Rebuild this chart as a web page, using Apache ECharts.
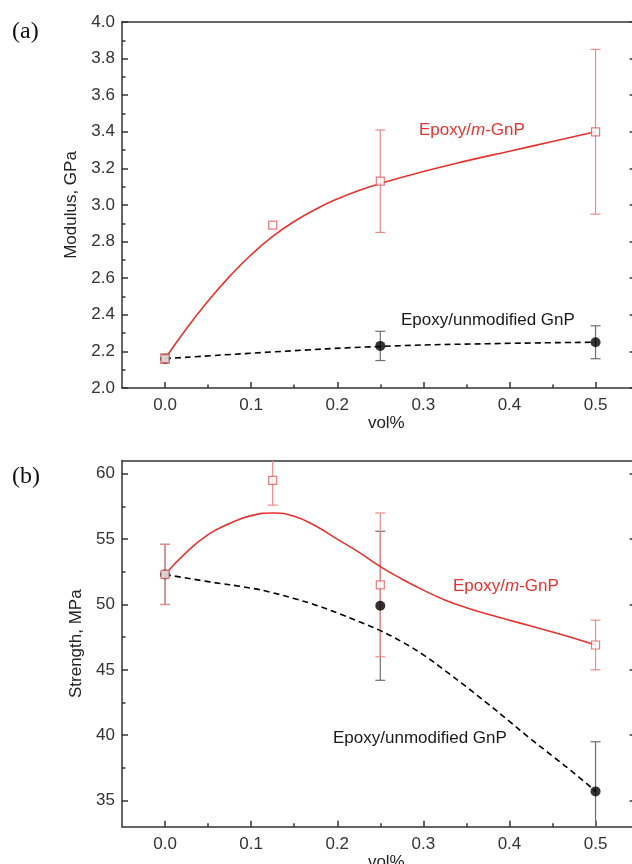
<!DOCTYPE html>
<html>
<head>
<meta charset="utf-8">
<script src="https://cdn.jsdelivr.net/npm/echarts@6/dist/echarts.min.js"></script>
<style>
  html, body { margin: 0; padding: 0; background: #fff; }
  #chart { width: 632px; height: 864px; }
</style>
</head>
<body>
<div id="chart"></div>
<script>
// Filler loading, vol%
const volMGnP = [0, 0.125, 0.25, 0.5];
const volUnmod = [0, 0.25, 0.5];

// Axis ticks
const volTicks = [0, 0.1, 0.2, 0.3, 0.4, 0.5];
const volMinorTicks = [0.05, 0.15, 0.25, 0.35, 0.45];
const strengthTicks = [35, 40, 45, 50, 55, 60];
const strengthMinorTicks = [37.5, 42.5, 47.5, 52.5, 57.5];

// (a) Young's modulus, GPa (mean and standard deviation)
const modulusMGnP = [2.16, 2.89, 3.13, 3.40];
const modulusMGnPErr = [0.025, 0, 0.28, 0.45];
const modulusUnmod = [2.16, 2.23, 2.25];
const modulusUnmodErr = [0.025, 0.08, 0.09];

// (a) trend curves
const modulusMGnPCurveX = [0, 0.025, 0.05, 0.075, 0.1, 0.125, 0.15, 0.175, 0.2, 0.225, 0.25, 0.3, 0.35, 0.4, 0.45, 0.5];
const modulusMGnPCurveY = [2.16, 2.325, 2.475, 2.61, 2.728, 2.828, 2.91, 2.977, 3.033, 3.079, 3.117, 3.183, 3.241, 3.294, 3.347, 3.40];
const modulusUnmodCurveX = [0, 0.125, 0.25, 0.375, 0.5];
const modulusUnmodCurveY = [2.16, 2.197, 2.227, 2.242, 2.25];

// (b) tensile strength, MPa (mean and standard deviation)
const strengthMGnP = [52.3, 59.5, 51.5, 46.9];
const strengthMGnPErr = [2.3, 1.9, 5.5, 1.9];
const strengthUnmod = [52.3, 49.9, 35.7];
const strengthUnmodErr = [2.3, 5.7, 3.8];

// (b) trend curves
const strengthMGnPCurveX = [0, 0.025, 0.05, 0.075, 0.1, 0.125, 0.15, 0.175, 0.2, 0.225, 0.25, 0.275, 0.3, 0.325, 0.35, 0.375, 0.4, 0.425, 0.45, 0.475, 0.5];
const strengthMGnPCurveY = [52.3, 54.0, 55.35, 56.2, 56.8, 57.0, 56.75, 56.0, 55.0, 54.0, 52.9, 51.95, 51.1, 50.35, 49.75, 49.25, 48.8, 48.35, 47.9, 47.42, 46.9];
const strengthUnmodCurveX = [0, 0.05, 0.1, 0.125, 0.15, 0.175, 0.2, 0.225, 0.25, 0.275, 0.3, 0.325, 0.35, 0.375, 0.4, 0.425, 0.45, 0.475, 0.5];
const strengthUnmodCurveY = [52.3, 51.75, 51.25, 50.9, 50.45, 49.95, 49.35, 48.7, 48.0, 47.15, 46.15, 44.95, 43.7, 42.4, 41.05, 39.7, 38.4, 37.1, 35.7];

const RED = '#e3342f';
const RED_BAR = '#ee8c8c';
const RED_MARK = '#e25a5a';
const GREY_BAR = '#6f6f6f';
const AXIS = '#333';
const FONT = '"Liberation Sans", Arial, sans-serif';

const zip = (xs, ys) => xs.map((x, i) => [x, ys[i]]);

function axisBase(extra) {
  return Object.assign({
    type: 'value',
    splitLine: { show: false },
    axisLine: { show: true, onZero: false, lineStyle: { color: AXIS, width: 1.5 } },
    axisTick: { show: false },
    axisLabel: { show: false },
    minorTick: { show: false }
  }, extra);
}

function volAxes(grid) {
  const range = { gridIndex: grid, min: -0.05, max: 0.55 };
  return [
    axisBase(Object.assign({}, range, {
      position: 'bottom',
      name: 'vol%', nameLocation: 'middle', nameGap: 22,
      nameTextStyle: { fontFamily: FONT, fontSize: 17, color: '#222', padding: [0, 0, 0, 12] },
      axisTick: { show: true, inside: true, length: 6, customValues: volTicks, lineStyle: { color: AXIS, width: 1.5 } },
      axisLabel: { show: true, customValues: volTicks, margin: 9, formatter: v => v.toFixed(1),
        fontFamily: FONT, fontSize: 17, color: '#333' }
    })),
    axisBase(Object.assign({}, range, {
      position: 'bottom',
      axisLine: { show: false, onZero: false },
      axisTick: { show: true, inside: true, length: 3.5, customValues: volMinorTicks, lineStyle: { color: AXIS, width: 1.5 } }
    })),
    axisBase(Object.assign({}, range, { position: 'top' }))
  ];
}

function errorBars(xs, ys, errs, color, xi, yi, z) {
  return {
    type: 'custom',
    xAxisIndex: xi, yAxisIndex: yi, z: z,
    silent: true,
    encode: { x: 0, y: [1, 2] },
    data: xs.map((x, i) => [x, ys[i] - errs[i], ys[i] + errs[i]]),
    renderItem(params, api) {
      const cs = params.coordSys;
      const x = api.value(0);
      const lo = api.coord([x, api.value(1)]);
      const hi = api.coord([x, api.value(2)]);
      if (Math.abs(lo[1] - hi[1]) < 0.5) return null;
      const top = cs.y, bottom = cs.y + cs.height;
      const y1 = Math.max(hi[1], top), y2 = Math.min(lo[1], bottom);
      const st = { stroke: color, lineWidth: 1.2 };
      const kids = [{ type: 'line', shape: { x1: lo[0], y1: y1, x2: lo[0], y2: y2 }, style: st }];
      const w = 5;
      if (hi[1] >= top) kids.push({ type: 'line', shape: { x1: hi[0] - w, y1: hi[1], x2: hi[0] + w, y2: hi[1] }, style: st });
      if (lo[1] <= bottom) kids.push({ type: 'line', shape: { x1: lo[0] - w, y1: lo[1], x2: lo[0] + w, y2: lo[1] }, style: st });
      return { type: 'group', children: kids };
    }
  };
}

function curve(xs, ys, color, dashed, xi, yi, z) {
  return {
    type: 'line', xAxisIndex: xi, yAxisIndex: yi, z: z,
    data: zip(xs, ys),
    smooth: 0.5,
    showSymbol: false, silent: true,
    lineStyle: { color: color, width: 1.6, type: dashed ? [6, 4] : 'solid' }
  };
}

function squares(xs, ys, xi, yi) {
  return {
    type: 'scatter', xAxisIndex: xi, yAxisIndex: yi, z: 6,
    data: zip(xs, ys), symbol: 'rect', symbolSize: 8,
    itemStyle: { color: '#fff', borderColor: RED_MARK, borderWidth: 1.2 }
  };
}

function dots(xs, ys, xi, yi) {
  return {
    type: 'scatter', xAxisIndex: xi, yAxisIndex: yi, z: 5,
    data: zip(xs, ys), symbol: 'circle', symbolSize: 10,
    itemStyle: { color: '#000' }
  };
}

const chart = echarts.init(document.getElementById('chart'), null, { renderer: 'canvas' });

const gridW = 516.6;

const option = {
  animation: false,
  backgroundColor: '#fff',
  grid: [
    { left: 122, top: 22, width: gridW, height: 366, outerBoundsMode: 'none', containLabel: false },
    { left: 122, top: 460.7, width: gridW, height: 366, outerBoundsMode: 'none', containLabel: false }
  ],
  xAxis: volAxes(0).concat(volAxes(1)),
  yAxis: [
    // (a) modulus
    axisBase({
      gridIndex: 0, position: 'left', min: 2.0, max: 4.0, interval: 0.2,
      name: 'Modulus, GPa', nameLocation: 'middle', nameGap: 42, nameRotate: 90,
      nameTextStyle: { fontFamily: FONT, fontSize: 17, color: '#222' },
      axisTick: { show: true, inside: true, length: 6, lineStyle: { color: AXIS, width: 1.5 } },
      minorTick: { show: true, splitNumber: 2, length: 3.5, lineStyle: { color: AXIS, width: 1.5 } },
      axisLabel: { show: true, margin: 7, formatter: v => v.toFixed(1), fontFamily: FONT, fontSize: 17, color: '#333' }
    }),
    axisBase({
      gridIndex: 0, position: 'right', min: 2.0, max: 4.0, interval: 0.2,
      axisTick: { show: true, inside: true, length: 9, lineStyle: { color: AXIS, width: 1.5 } }
    }),
    // (b) strength
    axisBase({
      gridIndex: 1, position: 'left', min: 33, max: 61,
      name: 'Strength, MPa', nameLocation: 'middle', nameGap: 33, nameRotate: 90,
      nameTextStyle: { fontFamily: FONT, fontSize: 17, color: '#222' },
      axisTick: { show: true, inside: true, length: 6, customValues: strengthTicks, lineStyle: { color: AXIS, width: 1.5 } },
      axisLabel: { show: true, margin: 7, customValues: strengthTicks, formatter: v => String(v),
        fontFamily: FONT, fontSize: 17, color: '#333' }
    }),
    axisBase({
      gridIndex: 1, position: 'left', min: 33, max: 61,
      axisLine: { show: false, onZero: false },
      axisTick: { show: true, inside: true, length: 3.5, customValues: strengthMinorTicks, lineStyle: { color: AXIS, width: 1.5 } }
    }),
    axisBase({
      gridIndex: 1, position: 'right', min: 33, max: 61,
      axisTick: { show: true, inside: true, length: 9, customValues: strengthTicks, lineStyle: { color: AXIS, width: 1.5 } }
    })
  ],
  series: [
    // (a)
    errorBars(volUnmod, modulusUnmod, modulusUnmodErr, GREY_BAR, 0, 0, 2),
    errorBars(volMGnP, modulusMGnP, modulusMGnPErr, RED_BAR, 0, 0, 3),
    curve(modulusMGnPCurveX, modulusMGnPCurveY, RED, false, 0, 0, 4),
    curve(modulusUnmodCurveX, modulusUnmodCurveY, '#000', true, 0, 0, 4),
    dots(volUnmod, modulusUnmod, 0, 0),
    squares(volMGnP, modulusMGnP, 0, 0),
    // (b)
    errorBars(volUnmod, strengthUnmod, strengthUnmodErr, GREY_BAR, 3, 2, 2),
    errorBars(volMGnP, strengthMGnP, strengthMGnPErr, RED_BAR, 3, 2, 3),
    curve(strengthMGnPCurveX, strengthMGnPCurveY, RED, false, 3, 2, 4),
    curve(strengthUnmodCurveX, strengthUnmodCurveY, '#000', true, 3, 2, 4),
    dots(volUnmod, strengthUnmod, 3, 2),
    squares(volMGnP, strengthMGnP, 3, 2)
  ],
  graphic: [
    { type: 'text', x: 12, y: 32, style: { text: '(a)', font: '24px "Liberation Serif", "Times New Roman", serif', fill: '#111', verticalAlign: 'middle' } },
    { type: 'text', x: 12, y: 477, style: { text: '(b)', font: '24px "Liberation Serif", "Times New Roman", serif', fill: '#111', verticalAlign: 'middle' } },
    { type: 'text', x: 419, y: 130, style: {
        text: '{n|Epoxy/}{i|m}{n|-GnP}', verticalAlign: 'middle',
        rich: {
          n: { fontFamily: FONT, fontSize: 17, fill: RED },
          i: { fontFamily: FONT, fontSize: 17, fontStyle: 'italic', fill: RED }
        } } },
    { type: 'text', x: 401, y: 320, style: { text: 'Epoxy/unmodified GnP', fontFamily: FONT, fontSize: 17, fill: '#1a1a1a', verticalAlign: 'middle' } },
    { type: 'text', x: 453, y: 586, style: {
        text: '{n|Epoxy/}{i|m}{n|-GnP}', verticalAlign: 'middle',
        rich: {
          n: { fontFamily: FONT, fontSize: 17, fill: RED },
          i: { fontFamily: FONT, fontSize: 17, fontStyle: 'italic', fill: RED }
        } } },
    { type: 'text', x: 333, y: 738, style: { text: 'Epoxy/unmodified GnP', fontFamily: FONT, fontSize: 17, fill: '#1a1a1a', verticalAlign: 'middle' } }
  ]
};

chart.setOption(option);
</script>
</body>
</html>
